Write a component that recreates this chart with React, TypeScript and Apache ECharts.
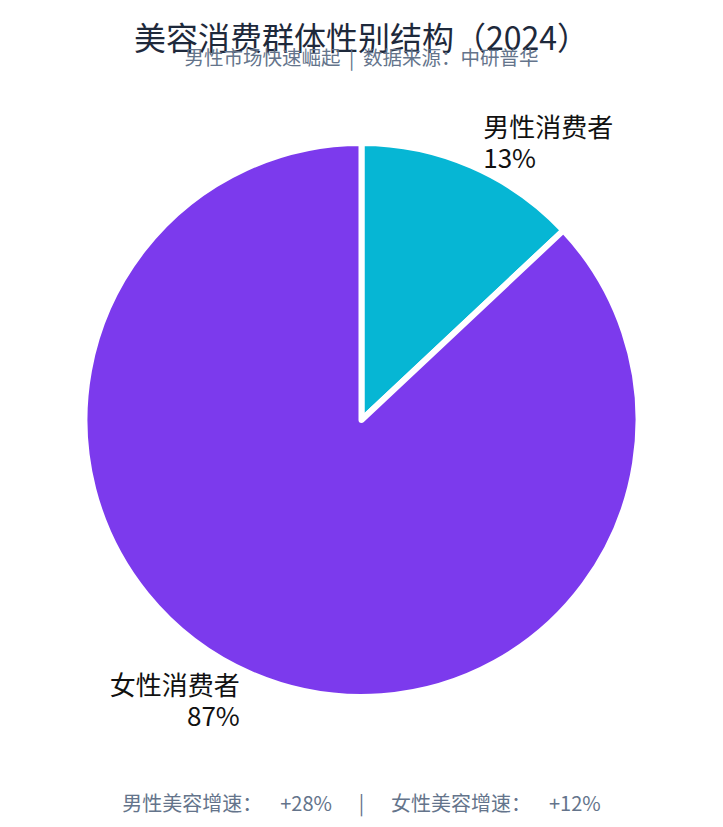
import { useEffect, useRef } from 'react'
import * as echarts from 'echarts'

const names = ['男性消费者', '女性消费者']
const shares = [13, 87]
const colors = ['#06b6d4', '#7c3aed']

const titleText = '美容消费群体性别结构（2024）'
const subText = '男性市场快速崛起  |  数据来源：中研普华'
const footText = '男性美容增速：    +28%      |      女性美容增速：    +12%'

const font = '"Noto Sans CJK SC", "Noto Sans", sans-serif'

export default function App() {
  const chartRef = useRef<HTMLDivElement>(null)

  useEffect(() => {
    document.body.style.margin = '0'
    if (!chartRef.current) return
    const chart = echarts.init(chartRef.current, null, { renderer: 'svg' })

    const option: echarts.EChartsOption = {
      animation: false,
      title: [
        {
          text: titleText,
          left: 'center',
          top: 15,
          textStyle: { fontSize: 32, fontWeight: 'normal', color: '#1e293b', fontFamily: font },
        },
        {
          text: subText,
          left: 'center',
          top: 42,
          textStyle: { fontSize: 19.5, fontWeight: 'normal', color: '#64748b', fontFamily: font },
        },
        {
          text: footText,
          left: 'center',
          top: 787,
          textStyle: { fontSize: 20, fontWeight: 'normal', color: '#64748b', fontFamily: font },
        },
      ],
      series: [
        {
          type: 'pie',
          center: ['50%', 420],
          radius: 277,
          startAngle: 90,
          clockwise: true,
          itemStyle: { borderColor: '#fff', borderWidth: 6 },
          label: {
            show: true,
            position: 'outside',
            formatter: '{b}\n{d}%',
            fontSize: 26,
            lineHeight: 31,
            color: '#111',
            fontFamily: font,
            distanceToLabelLine: 1,
          },
          labelLine: { show: false, length: 27, length2: 0 },
          data: names.map((n, i) => ({
            name: n,
            value: shares[i],
            itemStyle: { color: colors[i] },
          })),
        },
      ],
    }

    chart.setOption(option)
    return () => {
      chart.dispose()
    }
  }, [])

  return <div ref={chartRef} style={{ width: '723px', height: '827px' }} />
}
